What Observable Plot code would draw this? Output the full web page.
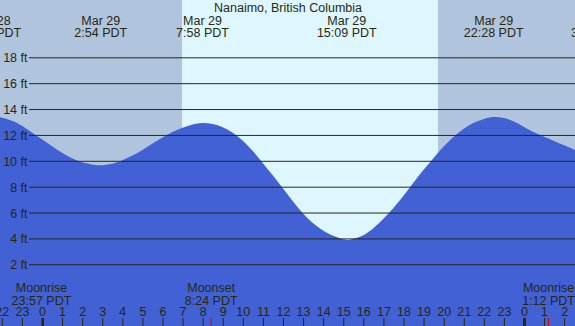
<!DOCTYPE html>
<html><head><meta charset="utf-8">
<script src="https://cdn.jsdelivr.net/npm/d3@7"></script>
<script src="https://cdn.jsdelivr.net/npm/@observablehq/plot@0.6"></script>
<style>html,body{margin:0;padding:0;background:#b0c4de;overflow:hidden} #chart svg{display:block;overflow:hidden}</style>
</head><body><div id="chart"></div>
<script>
// Tide heights (ft), hours relative to Mar 29 00:00 PDT
const hours = [-2.09, -1.5, -1, -0.5, 0, 0.5, 1, 1.5, 2, 2.5, 2.9, 3.5, 4, 4.5, 5, 5.5, 6, 6.5, 7, 7.5, 7.97, 8.5, 9, 9.5, 10, 10.5, 11, 11.5, 12, 12.5, 13, 13.5, 14, 14.5, 15.15, 15.5, 16, 16.5, 17, 17.5, 18, 18.5, 19, 19.5, 20, 20.5, 21, 21.5, 22, 22.47, 23, 23.5, 24, 24.5, 25, 25.5, 26, 26.54];
const heights = [13.36, 13.1, 12.7, 12.18, 11.66, 11.13, 10.62, 10.2, 9.89, 9.71, 9.65, 9.77, 10.04, 10.41, 10.84, 11.33, 11.8, 12.22, 12.56, 12.8, 12.92, 12.85, 12.6, 12.17, 11.55, 10.75, 9.82, 8.86, 7.85, 6.86, 5.93, 5.18, 4.62, 4.21, 3.9, 3.97, 4.25, 4.78, 5.52, 6.36, 7.3, 8.33, 9.3, 10.22, 11.1, 11.85, 12.48, 12.94, 13.23, 13.38, 13.3, 13.03, 12.62, 12.2, 11.86, 11.54, 11.2, 10.83];

// High / low tide labels
const tideTimes = [-2.55, 2.9, 7.967, 15.15, 22.467, 27.63];
const tideLabels = ["Mar 28\n21:27 PDT", "Mar 29\n2:54 PDT", "Mar 29\n7:58 PDT", "Mar 29\n15:09 PDT", "Mar 29\n22:28 PDT", "Mar 30\n3:38 PDT"];

// Daylight
const sunrise = [6.97];
const sunset = [19.72];

// Moon events
const moonTimes = [-0.05, 8.4, 25.2];
const moonLabels = ["Moonrise\n23:57 PDT", "Moonset\n8:24 PDT", "Moonrise\n1:12 PDT"];

// Axis ticks
const ftTicks = [2, 4, 6, 8, 10, 12, 14, 16, 18];
const ftLabels = ["2 ft", "4 ft", "6 ft", "8 ft", "10 ft", "12 ft", "14 ft", "16 ft", "18 ft"];
const hourTicks = [-2, -1, 0, 1, 2, 3, 4, 5, 6, 7, 8, 9, 10, 11, 12, 13, 14, 15, 16, 17, 18, 19, 20, 21, 22, 23, 24, 25, 26];
const hourLabels = ["22", "23", "0", "1", "2", "3", "4", "5", "6", "7", "8", "9", "10", "11", "12", "13", "14", "15", "16", "17", "18", "19", "20", "21", "22", "23", "0", "1", "2"];
const midnights = [0, 24];
const title = ["Nanaimo, British Columbia"];

const tide = hours.map((h, i) => ({h, v: heights[i]}));
const days = sunrise.map((s, i) => ({s, e: sunset[i]}));
const yDomain = [-2.77, 22.43];

const ink = "#28280f";
const water = "#4161d5";
const fs = 12.5;

const chart = Plot.plot({
  width: 575, height: 326,
  margin: 0,
  x: {domain: [-2.091, 26.54], axis: null},
  y: {domain: yDomain, axis: null},
  style: {background: "#b0c4de", fontFamily: "'Liberation Sans', Arial, sans-serif", overflow: "hidden"},
  marks: [
    Plot.rect(days, {x1: "s", x2: "e", fill: "#def7ff"}),
    Plot.areaY(tide, {x: "h", y1: yDomain[0], y2: "v", fill: water, curve: "natural"}),
    Plot.ruleY(ftTicks, {y: d => d, stroke: ink, strokeWidth: 1, insetLeft: 29}),
    Plot.text(ftTicks, {y: d => d, text: (d, i) => ftLabels[i], frameAnchor: "left", textAnchor: "end", dx: 27, dy: 0.5, fill: ink, fontSize: fs}),
    Plot.text(title, {frameAnchor: "top", lineAnchor: "top", dy: 2.5, fill: ink, fontSize: fs}),
    Plot.text(tideTimes, {x: d => d, text: (d, i) => tideLabels[i], frameAnchor: "top", lineAnchor: "top", dy: 15.5, fill: ink, fontSize: fs, lineHeight: 0.96}),
    Plot.ruleX(hourTicks, {x: d => d, stroke: ink, strokeWidth: 1, insetTop: 318}),
    Plot.ruleX(midnights, {x: d => d, stroke: ink, strokeWidth: 3, insetTop: 318}),
    Plot.ruleX(moonTimes, {x: d => d, stroke: "#e00000", strokeWidth: 1, insetTop: 318}),
    Plot.text(hourTicks, {x: d => d, text: (d, i) => hourLabels[i], frameAnchor: "bottom", lineAnchor: "bottom", dy: -10.3, fill: ink, fontSize: fs}),
    Plot.text(moonTimes, {x: d => d, text: (d, i) => moonLabels[i], frameAnchor: "bottom", lineAnchor: "bottom", dy: -22, fill: ink, fontSize: fs, lineHeight: 0.98})
  ]
});
document.getElementById("chart").appendChild(chart);
</script>
</body></html>
